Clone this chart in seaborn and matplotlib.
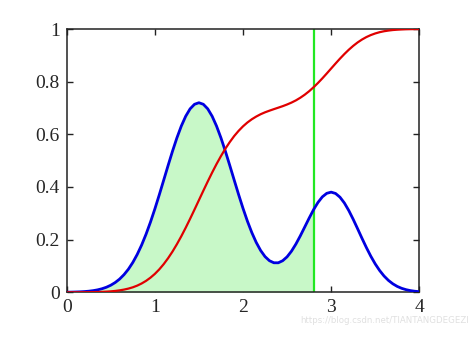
import matplotlib
matplotlib.use("Agg")
import matplotlib.pyplot as plt
import seaborn as sns
import pandas as pd
from matplotlib.ticker import FuncFormatter

# Values (step 0.05 on x)
x_vals = [0.00, 0.05, 0.10, 0.15, 0.20, 0.25, 0.30, 0.35, 0.40, 0.45,
          0.50, 0.55, 0.60, 0.65, 0.70, 0.75, 0.80, 0.85, 0.90, 0.95,
          1.00, 1.05, 1.10, 1.15, 1.20, 1.25, 1.30, 1.35, 1.40, 1.45,
          1.50, 1.55, 1.60, 1.65, 1.70, 1.75, 1.80, 1.85, 1.90, 1.95,
          2.00, 2.05, 2.10, 2.15, 2.20, 2.25, 2.30, 2.35, 2.40, 2.45,
          2.50, 2.55, 2.60, 2.65, 2.70, 2.75, 2.80, 2.85, 2.90, 2.95,
          3.00, 3.05, 3.10, 3.15, 3.20, 3.25, 3.30, 3.35, 3.40, 3.45,
          3.50, 3.55, 3.60, 3.65, 3.70, 3.75, 3.80, 3.85, 3.90, 3.95, 4.00]
pdf_vals = [0.0004, 0.0007, 0.0012, 0.0018, 0.0028, 0.0042, 0.0063, 0.0093, 0.0135, 0.0192,
            0.0269, 0.0371, 0.0502, 0.0670, 0.0878, 0.1133, 0.1438, 0.1795, 0.2205, 0.2663,
            0.3165, 0.3700, 0.4255, 0.4813, 0.5356, 0.5863, 0.6313, 0.6687, 0.6968, 0.7141,
            0.7200, 0.7141, 0.6968, 0.6687, 0.6313, 0.5864, 0.5359, 0.4818, 0.4264, 0.3715,
            0.3190, 0.2703, 0.2269, 0.1895, 0.1589, 0.1356, 0.1200, 0.1122, 0.1121, 0.1199,
            0.1347, 0.1562, 0.1832, 0.2143, 0.2478, 0.2815, 0.3134, 0.3411, 0.3625, 0.3759,
            0.3804, 0.3754, 0.3613, 0.3393, 0.3106, 0.2773, 0.2415, 0.2050, 0.1697, 0.1370,
            0.1078, 0.0828, 0.0619, 0.0452, 0.0322, 0.0223, 0.0151, 0.0100, 0.0064, 0.0040, 0.0025]
cdf_vals = [0.0000, 0.0001, 0.0001, 0.0002, 0.0003, 0.0005, 0.0007, 0.0011, 0.0017, 0.0025,
            0.0036, 0.0052, 0.0074, 0.0103, 0.0141, 0.0190, 0.0254, 0.0335, 0.0434, 0.0555,
            0.0699, 0.0870, 0.1068, 0.1294, 0.1546, 0.1826, 0.2128, 0.2452, 0.2792, 0.3143,
            0.3500, 0.3857, 0.4208, 0.4548, 0.4872, 0.5174, 0.5454, 0.5706, 0.5934, 0.6131,
            0.6303, 0.6449, 0.6572, 0.6675, 0.6763, 0.6836, 0.6898, 0.6956, 0.7012, 0.7069,
            0.7133, 0.7205, 0.7289, 0.7389, 0.7504, 0.7636, 0.7785, 0.7949, 0.8125, 0.8310,
            0.8500, 0.8689, 0.8874, 0.9049, 0.9212, 0.9359, 0.9489, 0.9600, 0.9694, 0.9770,
            0.9831, 0.9879, 0.9915, 0.9941, 0.9961, 0.9974, 0.9983, 0.9990, 0.9994, 0.9996, 0.9998]
threshold = 2.8
x_ticks = [0, 1, 2, 3, 4]
y_ticks = [0, 0.2, 0.4, 0.6, 0.8, 1]
watermark = "https://blog.csdn.net/TIANTANGDEGEZI"

df = pd.DataFrame({"x": x_vals, "pdf": pdf_vals, "cdf": cdf_vals})

sns.set_style("ticks")
plt.rcParams["font.family"] = ["Liberation Serif", "DejaVu Serif"]
plt.rcParams["lines.solid_joinstyle"] = "round"
plt.rcParams["lines.solid_capstyle"] = "round"

fig = plt.figure(figsize=(4.74, 3.42), dpi=100)
ax = fig.add_axes([0.1407, 0.1453, 0.8846 - 0.1407, 0.9152 - 0.1453])

sub = df[df["x"] <= threshold + 1e-9]
ax.fill_between(sub["x"], 0, sub["pdf"], color="#c8f8c8", linewidth=0, zorder=1)
sns.lineplot(data=df, x="x", y="pdf", ax=ax, color="#0000e0", linewidth=2.0, zorder=3)
sns.lineplot(data=df, x="x", y="cdf", ax=ax, color="#e00000", linewidth=1.6, zorder=3)
ax.axvline(threshold, color="#22e822", linewidth=1.6, zorder=2)

ax.set_xlim(0, 4)
ax.set_ylim(0, 1)
ax.set_xticks(x_ticks)
ax.set_yticks(y_ticks)
ax.yaxis.set_major_formatter(FuncFormatter(lambda v, p: f"{v:g}"))
ax.set_xlabel("")
ax.set_ylabel("")
ax.tick_params(axis="both", which="both", direction="in", top=True, right=True,
               length=4, width=1.0, labelsize=14, color="#222222", pad=5)
for s in ax.spines.values():
    s.set_visible(True)
    s.set_linewidth(1.1)
    s.set_color("#222222")

fig.text(0.99, 0.062, watermark, ha="right", va="center",
         fontsize=6.2, color="#e0e0e0", family="DejaVu Sans")

fig.savefig("out.png", dpi=100)
